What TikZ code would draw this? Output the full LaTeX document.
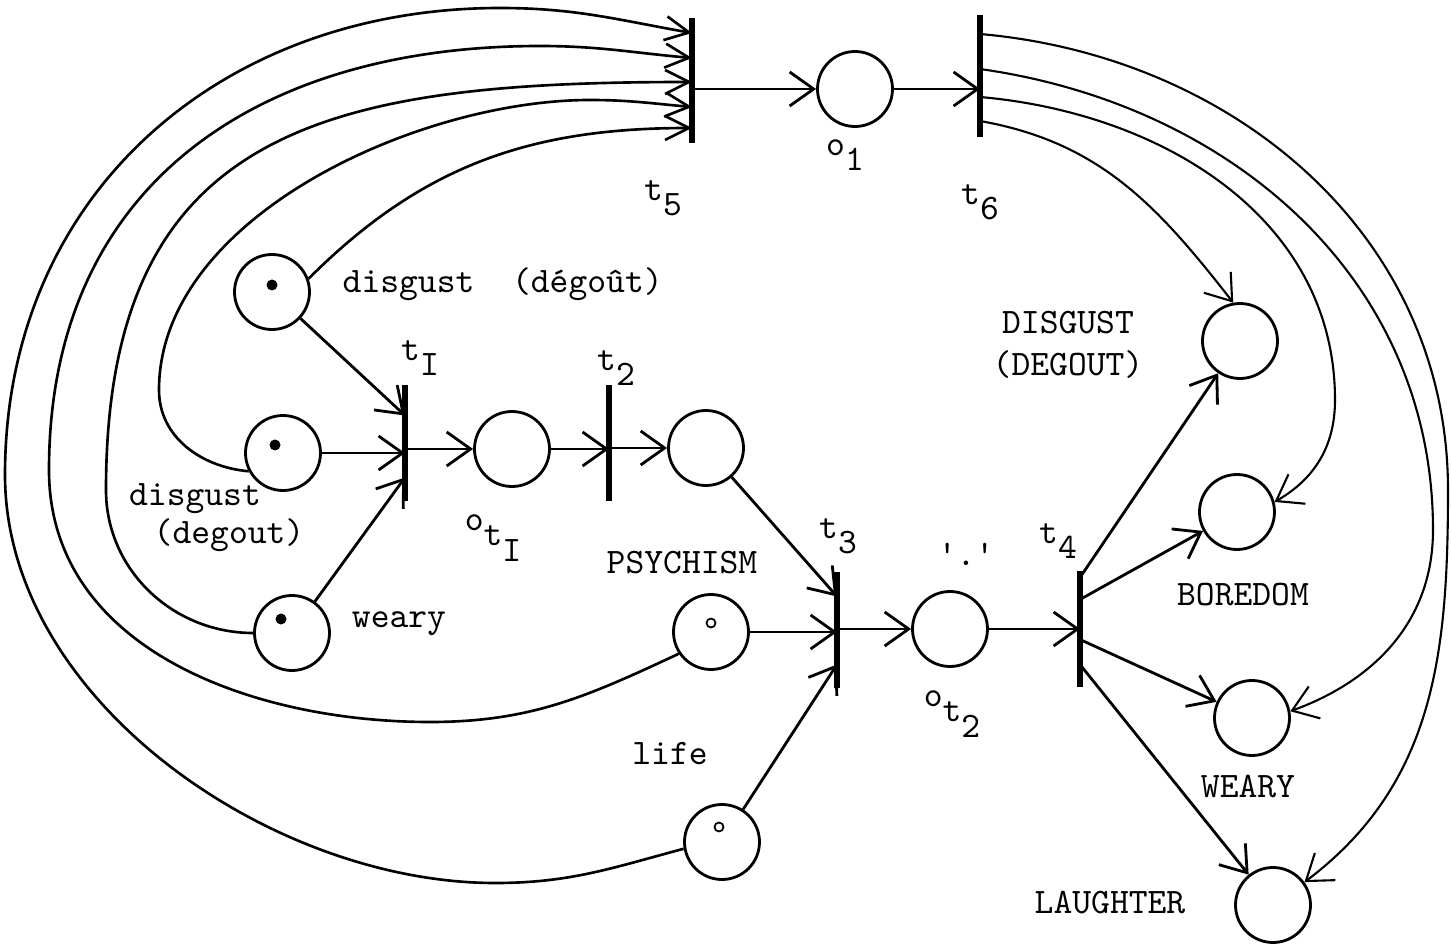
\documentclass[tikz,border=0pt]{standalone}
\usepackage{tikz}
\usetikzlibrary{arrows.meta, calc}

\newcommand{\lowered}[1]{\raisebox{-1ex}{#1}}

\tikzset{
  place/.style={circle, draw, line width=0.8pt, minimum size=7.5mm, inner sep=0pt},
  trans/.style={fill=black, inner sep=0pt, minimum width=1.6pt, minimum height=11.6mm},
  token/.style={circle, fill=black, inner sep=0pt, minimum size=1.1mm},
  hollow/.style={circle, draw, line width=0.5pt, inner sep=0pt, minimum size=0.9mm},
  lbl/.style={font=\ttfamily\fontsize{10.2}{12}\selectfont, inner sep=0pt},
  arc/.style={-{Straight Barb[length=2.4mm, width=3.4mm]}, line width=0.8pt},
  feed/.style={-{Straight Barb[length=2.4mm, width=2.4mm]}, line width=0.75pt},
  back/.style={arc, line width=0.6pt},
}

\begin{document}
\begin{tikzpicture}
    \useasboundingbox (0,0) rectangle (14.51,-9.47);
    % Places
    \node[place] (pDisg) at (2.72,-2.92) {};
    \node[place] (pDeg) at (2.83,-4.53) {};
    \node[place] (pWeary) at (2.92,-6.33) {};
    \node[place] (pOtI) at (5.12,-4.49) {};
    \node[place] (pMid) at (7.06,-4.48) {};
    \node[place] (pPsy) at (7.11,-6.32) {};
    \node[place] (pLife) at (7.22,-8.42) {};
    \node[place] (pOt2) at (9.50,-6.29) {};
    \node[place] (pO1) at (8.55,-0.89) {};
    \node[place] (pDG) at (12.40,-3.41) {};
    \node[place] (pBor) at (12.37,-5.12) {};
    \node[place] (pWea) at (12.52,-7.18) {};
    \node[place] (pLau) at (12.73,-9.05) {};
    % Tokens
    \node[token] (kDisg) at ([yshift=0.7mm]pDisg.center) {};
    \node[token] (kDeg) at ([xshift=-0.8mm, yshift=0.8mm]pDeg.center) {};
    \node[token] (kWeary) at ([xshift=-1.1mm, yshift=1.4mm]pWeary.center) {};
    \node[hollow] (kPsy) at ([yshift=0.9mm]pPsy.center) {};
    \node[hollow] (kLife) at ([xshift=-0.3mm, yshift=1.5mm]pLife.center) {};
    % Transitions
    \node[trans] (t1) at (4.05,-4.435) {};
    \node[trans] (t2) at (6.09,-4.435) {};
    \node[trans] (t3) at (8.37,-6.305) {};
    \node[trans] (t4) at (10.80,-6.295) {};
    \node[trans, minimum height=12.5mm] (t5) at (6.92,-0.805) {};
    \node[trans, minimum height=12.2mm] (t6) at (9.80,-0.76) {};
    % Labels
    \node[lbl, anchor=west] (lDisg) at (3.42,-2.84) {disgust~~(dégoût)};
    \node[lbl] (lDegA) at (1.95,-4.99) {disgust};
    \node[lbl] (lDegB) at (2.29,-5.35) {(degout)};
    \node[lbl] (lWeary) at (3.99,-6.24) {weary};
    \node[lbl] (lPsy) at (6.82,-5.63) {PSYCHISM};
    \node[lbl] (lLife) at (6.70,-7.54) {life};
    \node[lbl] (lDot) at (9.66,-5.54) {\textquotesingle.\textquotesingle};
    \node[lbl, align=center] (lDG) at (10.68,-3.45) {DISGUST\\(DEGOUT)};
    \node[lbl] (lBor) at (12.43,-5.95) {BOREDOM};
    \node[lbl] (lWea) at (12.48,-7.87) {WEARY};
    \node[lbl] (lLau) at (11.10,-9.03) {LAUGHTER};
    \node[lbl] (lt1) at (4.20,-3.58) {t\lowered{I}};
    \node[lbl] (lt2) at (6.16,-3.68) {t\lowered{2}};
    \node[lbl] (lt3) at (8.38,-5.36) {t\lowered{3}};
    \node[lbl] (lt4) at (10.58,-5.41) {t\lowered{4}};
    \node[lbl] (lt5) at (6.63,-1.98) {t\lowered{5}};
    \node[lbl] (lt6) at (9.80,-2.02) {t\lowered{6}};
    \node[lbl] (lO1) at (8.45,-1.55) {o\lowered{1}};
    \node[lbl] (lOtI) at (4.93,-5.38) {o\lowered{t\lowered{I}}};
    \node[lbl] (lOt2) at (9.52,-7.14) {o\lowered{t\lowered{2}}};
    % Forward arcs
    \draw[arc] (pDisg) -- ([yshift=2.8mm]t1.center);
    \draw[arc] (pDeg) -- (pDeg -| t1);
    \draw[arc] (pWeary) -- ([yshift=-3.4mm]t1.center);
    \draw[arc] (t1 |- pOtI) -- (pOtI);
    \draw[arc] (pOtI) -- (pOtI -| t2);
    \draw[arc] (t2 |- pMid) -- (pMid);
    \draw[arc] (pMid) -- ([yshift=3.4mm]t3.center);
    \draw[arc] (pPsy) -- (pPsy -| t3);
    \draw[arc] (pLife) -- ([yshift=-3.4mm]t3.center);
    \draw[arc] (t3 |- pOt2) -- (pOt2);
    \draw[arc] (pOt2) -- (pOt2 -| t4);
    \draw[arc] ([yshift=5.2mm]t4.center) -- (pDG);
    \draw[arc] ([yshift=3mm]t4.center) -- (pBor);
    \draw[arc] ([yshift=-1mm]t4.center) -- (pWea);
    \draw[arc] ([yshift=-3.5mm]t4.center) -- (pLau);
    \draw[arc] (t5 |- pO1) -- (pO1);
    \draw[arc] (pO1) -- (pO1 -| t6);
    % Loops into t5
    \draw[feed] (pLife.190) to[out=195, in=0] (4.95,-8.83)
        to[out=180, in=-90, looseness=0.9] (0.05,-4.75)
        to[out=90, in=180, looseness=1.05] (5.0,-0.08)
        to[out=0, in=170] ([yshift=4.75mm]t5.center);
    \draw[feed] (pPsy.214) to[out=205, in=0] (4.30,-7.22)
        to[out=180, in=-90] (0.49,-4.7)
        to[out=90, in=180, looseness=1.12] (5.4,-0.46)
        to[out=0, in=175] ([yshift=2.25mm]t5.center);
    \draw[feed] (pWeary.180) to[out=180, in=-90] (1.06,-4.9)
        to[out=90, in=180, looseness=1.3] ([yshift=-0.15mm]t5.center);
    \draw[feed] (pDeg.208) to[out=175, in=-90] (1.59,-3.9)
        to[out=90, in=180, looseness=0.85] (5.9,-1.0)
        to[out=0, in=175] ([yshift=-2.65mm]t5.center);
    \draw[feed] (pDisg.20) to[out=45, in=180] ([yshift=-4.75mm]t5.center);
    % Loops out of t6
    \draw[back] ([yshift=-4.5mm]t6.center) to[out=-10, in=128] (pDG.100);
    \draw[back] ([yshift=-2.1mm]t6.center) to[out=-5, in=90] (13.35,-4.0)
        to[out=-90, in=30] (pBor.15);
    \draw[back] ([yshift=0.7mm]t6.center) to[out=-8, in=90] (14.33,-5.3)
        to[out=-90, in=20] (pWea.10);
    \draw[back] ([yshift=4.2mm]t6.center) to[out=-5, in=90] (14.48,-4.9)
        to[out=-90, in=37] (pLau.36);
\end{tikzpicture}
\end{document}
